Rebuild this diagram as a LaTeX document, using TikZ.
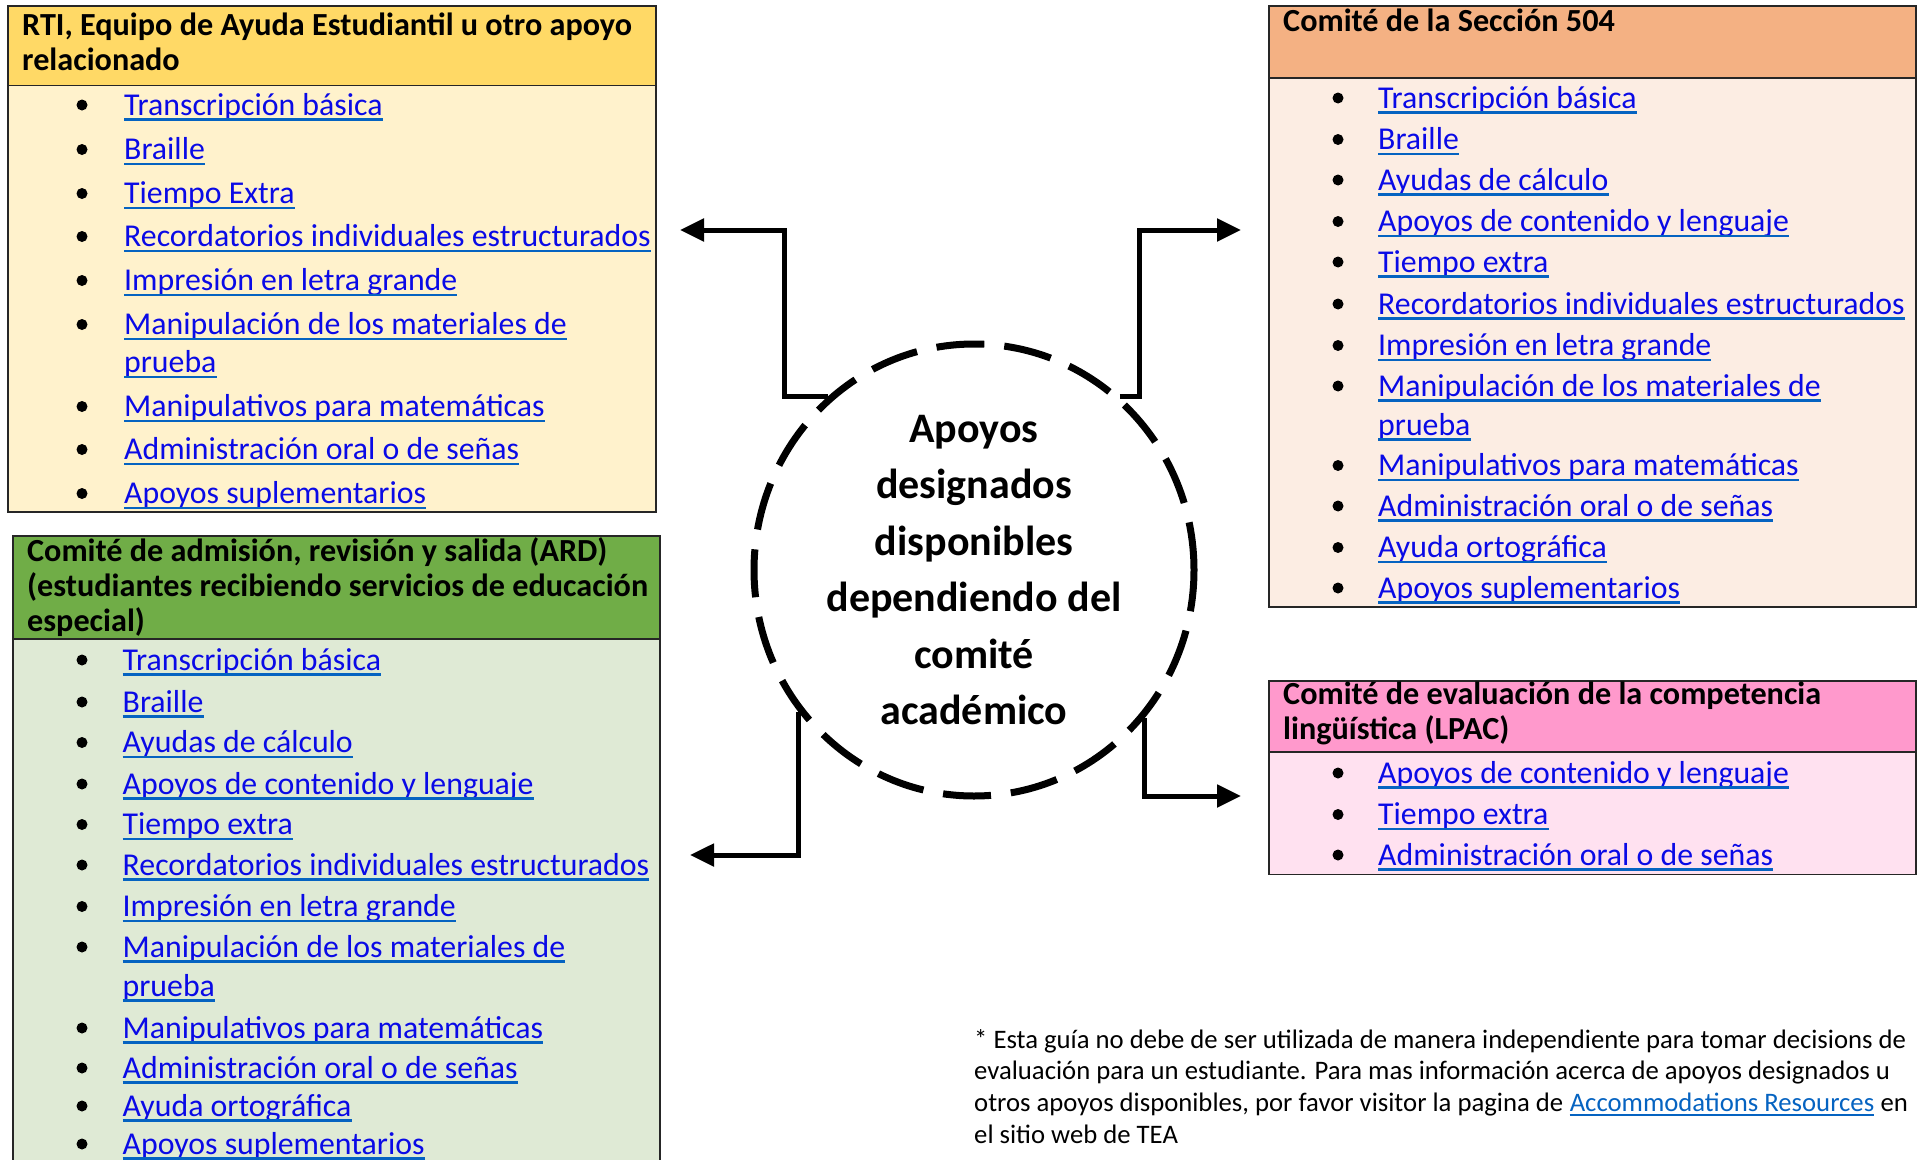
\documentclass[tikz,border=0pt]{standalone}
\usepackage{fontspec}
\setmainfont{Carlito}
\usetikzlibrary{arrows.meta,calc,shapes.geometric}
\definecolor{tlhead}{HTML}{FFD966}
\definecolor{tlbody}{HTML}{FFF2CC}
\definecolor{blhead}{HTML}{70AD47}
\definecolor{blbody}{HTML}{DFEAD5}
\definecolor{trhead}{HTML}{F4B183}
\definecolor{trbody}{HTML}{FCEDE3}
\definecolor{brhead}{HTML}{FF99CC}
\definecolor{brbody}{HTML}{FFE1F0}
\definecolor{linkc}{HTML}{0A0AE6}
\definecolor{ulc}{HTML}{0563C1}
\definecolor{notelink}{HTML}{0563C1}
\definecolor{bordc}{HTML}{262626}
\begin{document}
\begin{tikzpicture}[x=1pt,y=-1pt,
  box/.style={draw=bordc, line width=1.5pt, anchor=north west, inner sep=0},
  hdrtxt/.style={font=\fontsize{32.2}{34.8}\selectfont\bfseries, align=left, anchor=base west, inner sep=0},
  itm/.style={font=\fontsize{31.8}{38.7}\selectfont, text=linkc, anchor=base west, inner sep=0},
  ulstyle/.style={draw=ulc, line width=2.4pt},
  bul/.style={circle, fill=black, minimum size=11pt, inner sep=0},
  arr/.style={draw=black, line width=5pt, -{Triangle[length=24pt,width=22pt]}},
  notetxt/.style={font=\fontsize{26.7}{31.8}\selectfont, anchor=base west, inner sep=0},
]
\useasboundingbox (0,0) rectangle (1921,1159);
\clip (0,0) rectangle (1921,1159);

% ---- boxes
\node[box, fill=tlbody, minimum width=648pt, minimum height=506pt] (tlbox) at (7,5) {};
\node[box, fill=tlhead, minimum width=648pt, minimum height=79.5pt] (tlhead) at (7,5) {};
\node[box, fill=blbody, minimum width=647pt, minimum height=665pt] (blbox) at (12,535) {};
\node[box, fill=blhead, minimum width=647pt, minimum height=103pt] (blhead) at (12,535) {};
\node[box, fill=trbody, minimum width=647pt, minimum height=601pt] (trbox) at (1268,5) {};
\node[box, fill=trhead, minimum width=647pt, minimum height=72pt] (trhead) at (1268,5) {};
\node[box, fill=brbody, minimum width=647pt, minimum height=193.5pt] (brbox) at (1268,680) {};
\node[box, fill=brhead, minimum width=647pt, minimum height=71pt] (brhead) at (1268,680) {};

% ---- header texts (base = baseline of last line)
\node[hdrtxt] (tlht) at (22,70) {RTI, Equipo de Ayuda Estudiantil u otro apoyo\\relacionado};
\node[hdrtxt] (blht) at (27,631) {Comité de admisión, revisión y salida (ARD)\\(estudiantes recibiendo servicios de educación\\especial)};
\node[hdrtxt] (trht) at (1283,31) {Comité de la Sección 504};
\node[hdrtxt] (brht) at (1283,739) {Comité de evaluación de la competencia\\lingüística (LPAC)};

% ---- items
\newcommand\itemlist[4]{% prefix, bullet x, text x, list
  \foreach \yy/\bb/\tt [count=\i] in {#4} {
    \node[itm] (#1\i) at (#3,{\yy+10}) {\tt};
    \draw[ulstyle] ([yshift=-4.5pt]#1\i.base west) -- ([yshift=-4.5pt]#1\i.base east);
    \ifnum\bb=1 \node[bul] (#1b\i) at (#2,\yy) {};\fi
  }
}
\itemlist{tl}{82}{124}{105/1/Transcripción básica, 149.5/1/Braille, 193.5/1/Tiempo Extra,
  236.5/1/Recordatorios individuales estructurados, 280.5/1/Impresión en letra grande,
  324.5/1/Manipulación de los materiales de, 362.5/0/prueba,
  406.5/1/Manipulativos para matemáticas, 449.5/1/Administración oral o de señas,
  493.5/1/Apoyos suplementarios}
\itemlist{bl}{82}{122.5}{660/1/Transcripción básica, 702/1/Braille, 742.5/1/Ayudas de cálculo,
  784/1/Apoyos de contenido y lenguaje, 824.5/1/Tiempo extra,
  865/1/Recordatorios individuales estructurados, 906.5/1/Impresión en letra grande,
  947/1/Manipulación de los materiales de, 986/0/prueba,
  1028/1/Manipulativos para matemáticas, 1068/1/Administración oral o de señas,
  1106/1/Ayuda ortográfica, 1144/1/Apoyos suplementarios}
\itemlist{tr}{1338}{1378}{98/1/Transcripción básica, 139.5/1/Braille, 180/1/Ayudas de cálculo,
  221.5/1/Apoyos de contenido y lenguaje, 262/1/Tiempo extra,
  304/1/Recordatorios individuales estructurados, 345.5/1/Impresión en letra grande,
  386/1/Manipulación de los materiales de, 425/0/prueba,
  465.5/1/Manipulativos para matemáticas, 506/1/Administración oral o de señas,
  547.5/1/Ayuda ortográfica, 588/1/Apoyos suplementarios}
\itemlist{br}{1338}{1378}{773/1/Apoyos de contenido y lenguaje, 814.5/1/Tiempo extra,
  855/1/Administración oral o de señas}

% ---- centre circle
\node[ellipse, draw=black, line width=7pt, dash pattern=on 48pt off 20pt,
  minimum width=440pt, minimum height=452pt, inner sep=0, align=center,
  font=\fontsize{42}{56.4}\selectfont\bfseries] (circ) at (974,570)
  {Apoyos\\designados\\disponibles\\dependiendo del\\comité\\académico};

% ---- arrows
\coordinate (tlc) at (784,230);
\coordinate (tltip) at (680,230);
\coordinate (trc) at (1139,230);
\coordinate (trtip) at (1241,230);
\coordinate (bltip) at (690,855);
\coordinate (brtip) at (1241,796);
\draw[arr] (circ.130) -| (tlc) -- (tltip);
\draw[arr] (circ.50) -| (trc) -- (trtip);
\draw[arr] (circ.219) |- (bltip);
\draw[arr] (circ.319.5) |- (brtip);

% ---- note
\node[notetxt] (note1) at (974,1048) {* Esta guía no debe de ser utilizada de manera independiente para tomar decisions de};
\node[notetxt] (note2) at (974,1079.8) {evaluación para un estudiante. Para mas información acerca de apoyos designados u};
\node[notetxt] (note3a) at (974,1111.6) {otros apoyos disponibles, por favor visitor la pagina de};
\node[notetxt, text=notelink] (note3b) at ([xshift=6pt]note3a.base east) {Accommodations Resources};
\draw[draw=notelink, line width=1.6pt] ([yshift=-3.5pt]note3b.base west) -- ([yshift=-3.5pt]note3b.base east);
\node[notetxt] (note3c) at ([xshift=6pt]note3b.base east) {en};
\node[notetxt] (note4) at (974,1143.4) {el sitio web de TEA};
\end{tikzpicture}
\end{document}
